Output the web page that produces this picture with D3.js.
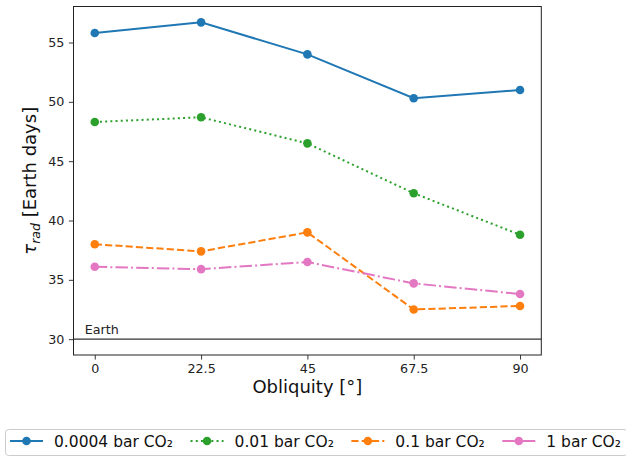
<!DOCTYPE html>
<html>
<head>
<meta charset="utf-8">
<script src="https://cdn.jsdelivr.net/npm/d3@7"></script>
<style>
  body { margin: 0; background: #fff; }
  svg { font-family: "DejaVu Sans", sans-serif; }
</style>
</head>
<body>
<div id="chart"></div>
<script>
// --------------- Data ---------------
const obliquity = [0, 22.5, 45, 67.5, 90];
const xTickLabels = ["0", "22.5", "45", "67.5", "90"];
const yTicks = [30, 35, 40, 45, 50, 55];
const earthValue = 30;

const seriesNames = ["0.0004 bar CO\u2082", "0.01 bar CO\u2082", "0.1 bar CO\u2082", "1 bar CO\u2082"];
const co2_00004 = [55.8, 56.7, 54.0, 50.3, 51.0];
const co2_001 = [48.3, 48.7, 46.5, 42.3, 38.8];
const co2_01 = [38.0, 37.4, 39.0, 32.5, 32.8];
const co2_1 = [36.1, 35.9, 36.5, 34.7, 33.8];
const seriesValues = [co2_00004, co2_001, co2_01, co2_1];
const seriesColors = ["#1f77b4", "#2ca02c", "#ff7f0e", "#e377c2"];
const seriesDash = [null, "2,3.2", "7.2,3.1", "12.5,3.1,2,3.1"];

// --------------- Layout ---------------
const WIDTH = 626, HEIGHT = 456;
const margin = { top: 6.5, left: 73.5 };
const plotW = 467.8, plotH = 348.5;

const svg = d3.select("#chart").append("svg")
  .attr("width", WIDTH)
  .attr("height", HEIGHT);

const g = svg.append("g")
  .attr("transform", `translate(${margin.left},${margin.top})`);

// matplotlib-style 5% margins
const allVals = seriesValues.flat().concat([earthValue]);
const yMin = d3.min(allVals), yMax = d3.max(allVals);
const yPad = (yMax - yMin) * 0.05;
const x = d3.scaleLinear().domain([-4.5, 94.5]).range([0, plotW]);
const y = d3.scaleLinear().domain([yMin - yPad, yMax + yPad]).range([plotH, 0]);

// axes
const xAxis = d3.axisBottom(x)
  .tickValues(obliquity)
  .tickFormat((d, i) => xTickLabels[i])
  .tickSize(4.6).tickPadding(4.5);
const yAxis = d3.axisLeft(y)
  .tickValues(yTicks)
  .tickSize(4.6).tickPadding(4.5);

const gx = g.append("g").attr("transform", `translate(0,${plotH})`).call(xAxis);
const gy = g.append("g").call(yAxis);
[gx, gy].forEach(a => {
  a.select(".domain").remove();
  a.selectAll("line").attr("stroke", "#222").attr("stroke-width", 0.9);
  a.selectAll("text").attr("fill", "#222").attr("font-size", 12.7)
    .attr("font-family", "DejaVu Sans");
});

// Earth reference line
g.append("line")
  .attr("x1", 0).attr("x2", plotW)
  .attr("y1", y(earthValue)).attr("y2", y(earthValue))
  .attr("stroke", "#333").attr("stroke-width", 1.3);
g.append("text")
  .attr("x", x(-2.1)).attr("y", y(earthValue) - 5)
  .attr("font-size", 12.7).attr("fill", "#222")
  .text("Earth");

// series
const line = d3.line()
  .x((d, i) => x(obliquity[i]))
  .y(d => y(d));

seriesValues.forEach((vals, k) => {
  g.append("path")
    .datum(vals)
    .attr("d", line)
    .attr("fill", "none")
    .attr("stroke", seriesColors[k])
    .attr("stroke-width", 2)
    .attr("stroke-dasharray", seriesDash[k]);
  g.selectAll(null)
    .data(vals)
    .enter()
    .append("circle")
    .attr("cx", (d, i) => x(obliquity[i]))
    .attr("cy", d => y(d))
    .attr("r", 4.3)
    .attr("fill", seriesColors[k]);
});

// frame
g.append("rect")
  .attr("width", plotW).attr("height", plotH)
  .attr("fill", "none").attr("stroke", "#222").attr("stroke-width", 1);

// axis labels
g.append("text")
  .attr("x", plotW / 2).attr("y", plotH + 38)
  .attr("text-anchor", "middle")
  .attr("font-size", 18).attr("fill", "#111")
  .text("Obliquity [\u00b0]");

const yl = svg.append("text")
  .attr("transform", `translate(36,${margin.top + plotH / 2}) rotate(-90)`)
  .attr("text-anchor", "middle")
  .attr("font-size", 18).attr("fill", "#111");
yl.append("tspan").attr("font-style", "italic").text("\u03c4");
yl.append("tspan").attr("font-style", "italic").attr("font-size", 12.5).attr("dy", 4).text("rad");
yl.append("tspan").attr("dy", -4).text(" [Earth days]");

// --------------- Legend ---------------
const legend = svg.append("g");
const legBox = legend.append("rect")
  .attr("x", 5.5).attr("y", 429.5).attr("height", 26).attr("rx", 3)
  .attr("fill", "#fff").attr("stroke", "#ccc").attr("stroke-width", 1);

const rowY = 441;
let lx = 10;
seriesNames.forEach((name, k) => {
  const item = legend.append("g");
  item.append("line")
    .attr("x1", lx).attr("x2", lx + 33)
    .attr("y1", rowY).attr("y2", rowY)
    .attr("stroke", seriesColors[k]).attr("stroke-width", 2)
    .attr("stroke-dasharray", seriesDash[k]);
  item.append("circle")
    .attr("cx", lx + 16.5).attr("cy", rowY).attr("r", 4.3)
    .attr("fill", seriesColors[k]);
  const t = item.append("text")
    .attr("x", lx + 44).attr("y", rowY + 5.5)
    .attr("font-size", 15.5).attr("fill", "#111")
    .text(name);
  lx = lx + 44 + t.node().getComputedTextLength() + 17.5;
});
legBox.attr("width", lx - 17.5 + 6 - 5.5);
</script>
</body>
</html>
